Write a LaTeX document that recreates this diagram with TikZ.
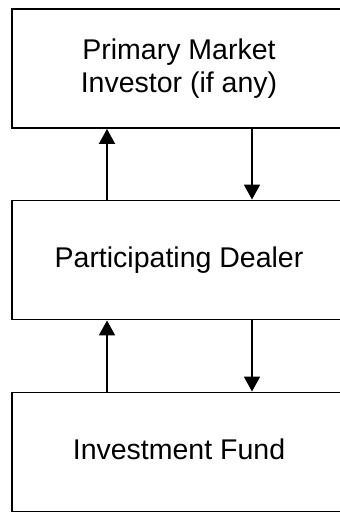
\documentclass[tikz,border=0pt]{standalone}
\usepackage{fontspec}
\setmainfont{Liberation Sans}
\usepackage{tikz}
\usetikzlibrary{arrows.meta,positioning,calc}

\begin{document}
\begin{tikzpicture}[
  x=1pt, y=-1pt,
  font=\fontsize{28.5}{33}\selectfont,
  >={Triangle[length=15pt,width=16pt]},
  flowbox/.style={
    draw=black,
    fill=white,
    line width=1.9pt,
    minimum width=334pt,
    minimum height=119pt,
    inner sep=0pt,
    align=center
  },
  flowarrow/.style={
    ->,
    line width=1.9pt
  }
]

  % --- canvas ---
  \clip (0,0) rectangle (340,512);
  \fill[white] (0,0) rectangle (340,512);

  % --- boxes ---
  \node[flowbox] (investor) at (179,68.5) {Primary Market\\Investor (if any)};
  \node[flowbox] (dealer) at (179,260) {\raisebox{2pt}{Participating Dealer}};
  \node[flowbox] (fund) at (179,452) {\raisebox{5.5pt}{Investment Fund}};

  % --- flows between boxes ---
  \draw[flowarrow] ([xshift=-72pt]dealer.north) -- ([xshift=-72pt]investor.south);
  \draw[flowarrow] ([xshift=73pt]investor.south) -- ([xshift=73pt]dealer.north);
  \draw[flowarrow] ([xshift=-72pt]fund.north) -- ([xshift=-72pt]dealer.south);
  \draw[flowarrow] ([xshift=73pt]dealer.south) -- ([xshift=73pt]fund.north);

\end{tikzpicture}
\end{document}
